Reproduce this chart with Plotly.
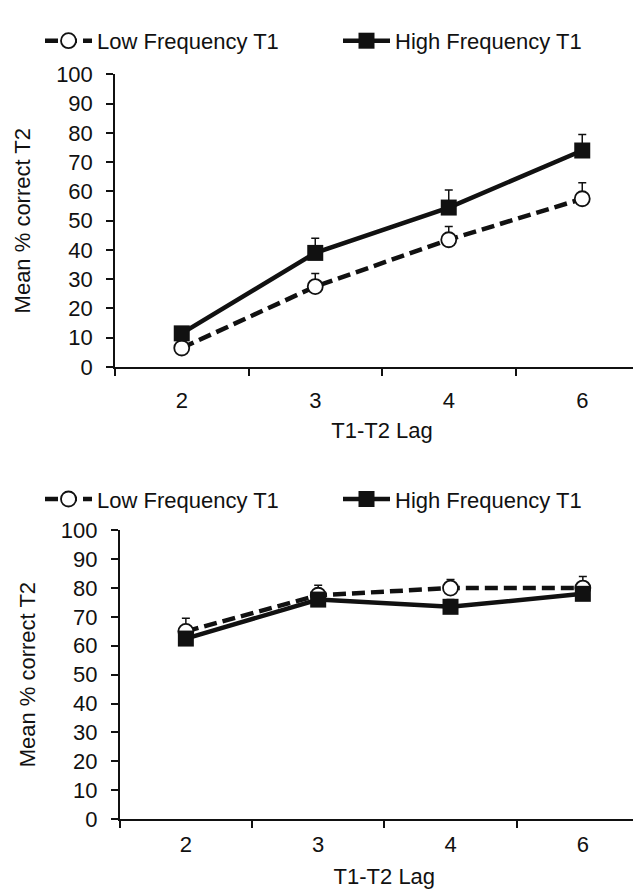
import plotly.graph_objects as go

lags = ["2", "3", "4", "6"]

top_low = [6.5, 27.5, 43.5, 57.5]
top_low_err = [1.5, 4.5, 4.5, 5.5]
top_high = [11.5, 39, 54.5, 74]
top_high_err = [1.5, 5, 6, 5.5]

bot_low = [65, 77.5, 80, 80]
bot_low_err = [4.5, 3.5, 3, 4]
bot_high = [62.5, 76, 73.5, 78]
bot_high_err = [1.5, 2, 2.5, 2]

y_ticks = list(range(0, 101, 10))

INK = "#111111"
FONT = "Liberation Sans, Arial, sans-serif"
FS = 22

fig = go.Figure()

def add_pair(xa, ya, low, low_err, high, high_err, legend):
    fig.add_trace(go.Scatter(
        x=lags, y=low, name="Low Frequency T1", xaxis=xa, yaxis=ya, legend=legend,
        mode="lines+markers", cliponaxis=False,
        line=dict(color=INK, width=4.5, dash="13px,6px"),
        marker=dict(symbol="circle", size=15, color="white", line=dict(color=INK, width=1.8)),
        error_y=dict(type="data", array=low_err, arrayminus=[0]*4, symmetric=False,
                     color=INK, thickness=1.5, width=4),
    ))
    fig.add_trace(go.Scatter(
        x=lags, y=high, name="High Frequency T1", xaxis=xa, yaxis=ya, legend=legend,
        mode="lines+markers", cliponaxis=False,
        line=dict(color=INK, width=4.5),
        marker=dict(symbol="square", size=16, color=INK, line=dict(color=INK, width=0)),
        error_y=dict(type="data", array=high_err, arrayminus=[0]*4, symmetric=False,
                     color=INK, thickness=1.5, width=4),
    ))

add_pair("x", "y", top_low, top_low_err, top_high, top_high_err, "legend")
add_pair("x2", "y2", bot_low, bot_low_err, bot_high, bot_high_err, "legend2")

W, H = 641, 893

def xaxis(dom, anchor, lab_off, title_off):
    return dict(domain=dom, anchor=anchor, type="category", range=[-0.5, 3.5],
                tickson="boundaries", ticks="outside", ticklen=7, tickwidth=1.5, tickcolor=INK,
                ticklabelstandoff=lab_off,
                showline=True, linecolor=INK, linewidth=1.5, showgrid=False, zeroline=False,
                tickfont=dict(family=FONT, size=FS, color=INK),
                title=dict(text="T1-T2 Lag", font=dict(family=FONT, size=FS, color=INK), standoff=title_off))

def yaxis(dom, anchor):
    return dict(domain=dom, anchor=anchor, range=[0, 100], tickvals=y_ticks,
                ticks="outside", ticklen=7, tickwidth=1.5, tickcolor=INK,
                ticklabelstandoff=9,
                showline=True, linecolor=INK, linewidth=1.5, showgrid=False, zeroline=False,
                tickfont=dict(family=FONT, size=FS, color=INK),
                title=dict(text="Mean % correct T2", font=dict(family=FONT, size=FS, color=INK), standoff=19))

legend_common = dict(orientation="h", x=32 / W, xanchor="left", yanchor="middle",
                     font=dict(family=FONT, size=FS, color=INK), itemwidth=47, entrywidth=236,
                     entrywidthmode="pixels", bgcolor="rgba(0,0,0,0)")

fig.update_layout(
    width=W, height=H, margin=dict(l=0, r=0, t=0, b=0),
    paper_bgcolor="white", plot_bgcolor="white",
    xaxis=xaxis([107 / W, 1], "y", 13, 10),
    yaxis=yaxis([1 - 357 / H, 1 - 56 / H], "x"),
    xaxis2=xaxis([111.7 / W, 1], "y2", 5, 12),
    yaxis2=yaxis([1 - 822 / H, 1 - 525 / H], "x2"),
    legend=dict(legend_common, y=1 - 21.5 / H),
    legend2=dict(legend_common, y=1 - 493 / H),
)

fig.write_html("out.html")
